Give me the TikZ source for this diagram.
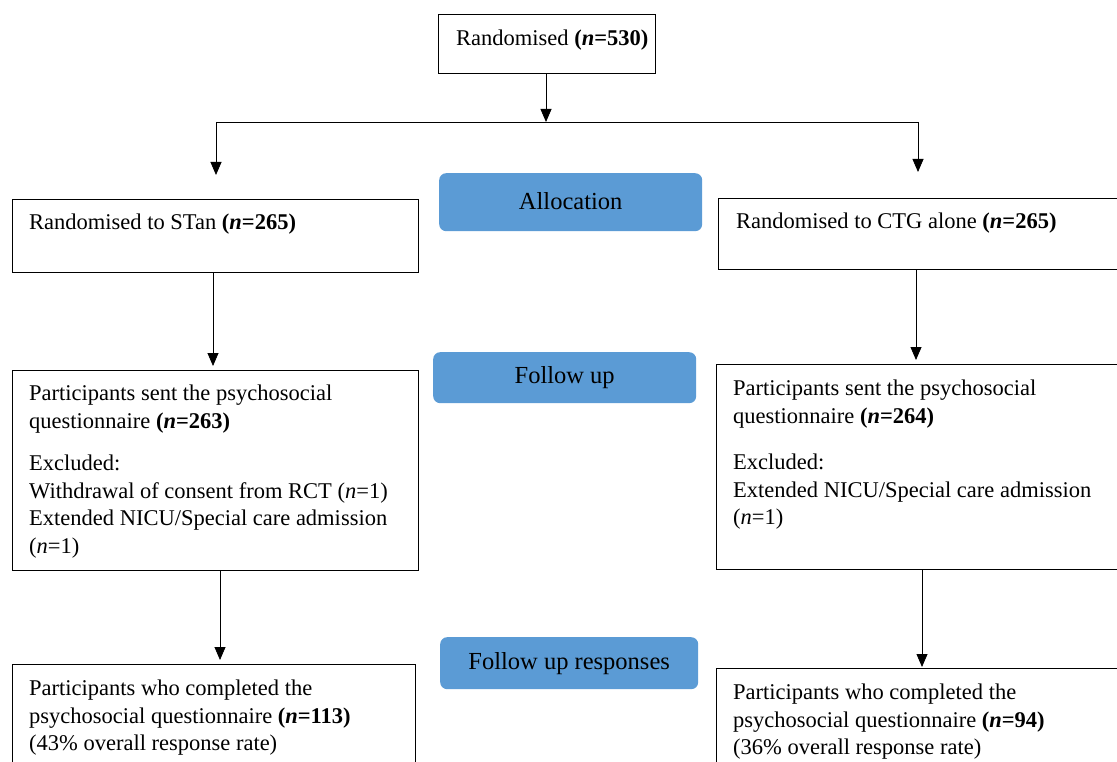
\documentclass[tikz,border=0pt]{standalone}
\usepackage{fontspec}
\setmainfont{Liberation Serif}
\usetikzlibrary{arrows.meta}
\definecolor{band}{HTML}{5B9BD5}
\newcommand{\nb}[1]{\textbf{(\textit{n}=#1)}}
\newcommand{\nr}[1]{(\textit{n}=#1)}
\tikzset{
  box/.style={draw, line width=1.4pt, anchor=north west, inner sep=0pt},
  txt/.style={anchor=north west, inner sep=0pt, align=left,
    font=\fontsize{22.5}{27.5}\selectfont},
  band/.style={fill=band, draw=none, rounded corners=7pt, anchor=north west,
    inner sep=0pt, font=\fontsize{24.5}{29}\selectfont},
  arr/.style={line width=0.85pt, -{Triangle[width=11pt,length=13pt]}},
  ln/.style={line width=0.85pt}
}
\begin{document}
\begin{tikzpicture}[x=1pt,y=-1pt]
\useasboundingbox (0,0) rectangle (1117,762);
\clip (0,0) rectangle (1117,762);
% boxes
\node[box, minimum width=217pt, minimum height=59pt] (top) at (438,14) {};
\node[box, minimum width=406pt, minimum height=73pt] (s1) at (12,199) {};
\node[box, minimum width=406pt, minimum height=71pt] (c1) at (718,198) {};
\node[box, minimum width=406pt, minimum height=200pt] (s2) at (12,370) {};
\node[box, minimum width=406pt, minimum height=205pt] (c2) at (716,364) {};
\node[box, minimum width=403pt, minimum height=120pt] (s3) at (12,664) {};
\node[box, minimum width=406pt, minimum height=120pt] (c3) at (716,668) {};
% texts
\node[txt] (topt) at (456,30) {Randomised \nb{530}};
\node[txt] (s1t) at (29,214) {Randomised to STan \nb{265}};
\node[txt] (c1t) at (736,213) {Randomised to CTG alone \nb{265}};
\node[txt] (s2t) at (29,385) {Participants sent the psychosocial\\
  questionnaire \nb{263}\\[15pt]
  Excluded:\\
  Withdrawal of consent from RCT \nr{1}\\
  Extended NICU/Special care admission\\
  \nr{1}};
\node[txt] (c2t) at (733,380) {Participants sent the psychosocial\\
  questionnaire \nb{264}\\[19pt]
  Excluded:\\
  Extended NICU/Special care admission\\
  \nr{1}};
\node[txt] (s3t) at (29,680) {Participants who completed the\\
  psychosocial questionnaire \nb{113}\\
  (43\% overall response rate)};
\node[txt] (c3t) at (733,684) {Participants who completed the\\
  psychosocial questionnaire \nb{94}\\
  (36\% overall response rate)};
% bands
\node[band, minimum width=263pt, minimum height=58pt] (alloc) at (439,173) {\raisebox{2pt}{Allocation}};
\node[band, minimum width=263pt, minimum height=51pt] (fu) at (433,352) {\raisebox{-2pt}{Follow up}};
\node[band, minimum width=258pt, minimum height=52pt] (fur) at (440,637) {\raisebox{-1pt}{Follow up responses}};
% connector coordinates
\coordinate (junc) at (546,122);
\coordinate (jl) at (216,122);
\coordinate (jr) at (918,122);
\coordinate (el) at (216,175);
\coordinate (er) at (918,172);
\coordinate (xa) at (213,0);
\coordinate (xb) at (916,0);
\coordinate (xc) at (220,0);
\coordinate (xd) at (922,0);
\coordinate (s2top) at ([yshift=4pt]s2.north);
\coordinate (c2top) at ([yshift=4pt]c2.north);
\coordinate (s3top) at ([yshift=4pt]s3.north);
\coordinate (c3top) at ([yshift=1pt]c3.north);
% connectors
\draw[arr] (top.south -| junc) -- (junc);
\draw[ln] (jl) -- (jr);
\draw[arr] (jl) -- (el);
\draw[arr] (jr) -- (er);
\draw[arr] (xa |- s1.south) -- (xa |- s2top);
\draw[arr] (xb |- c1.south) -- (xb |- c2top);
\draw[arr] (xc |- s2.south) -- (xc |- s3top);
\draw[arr] (xd |- c2.south) -- (xd |- c3top);
\end{tikzpicture}
\end{document}
